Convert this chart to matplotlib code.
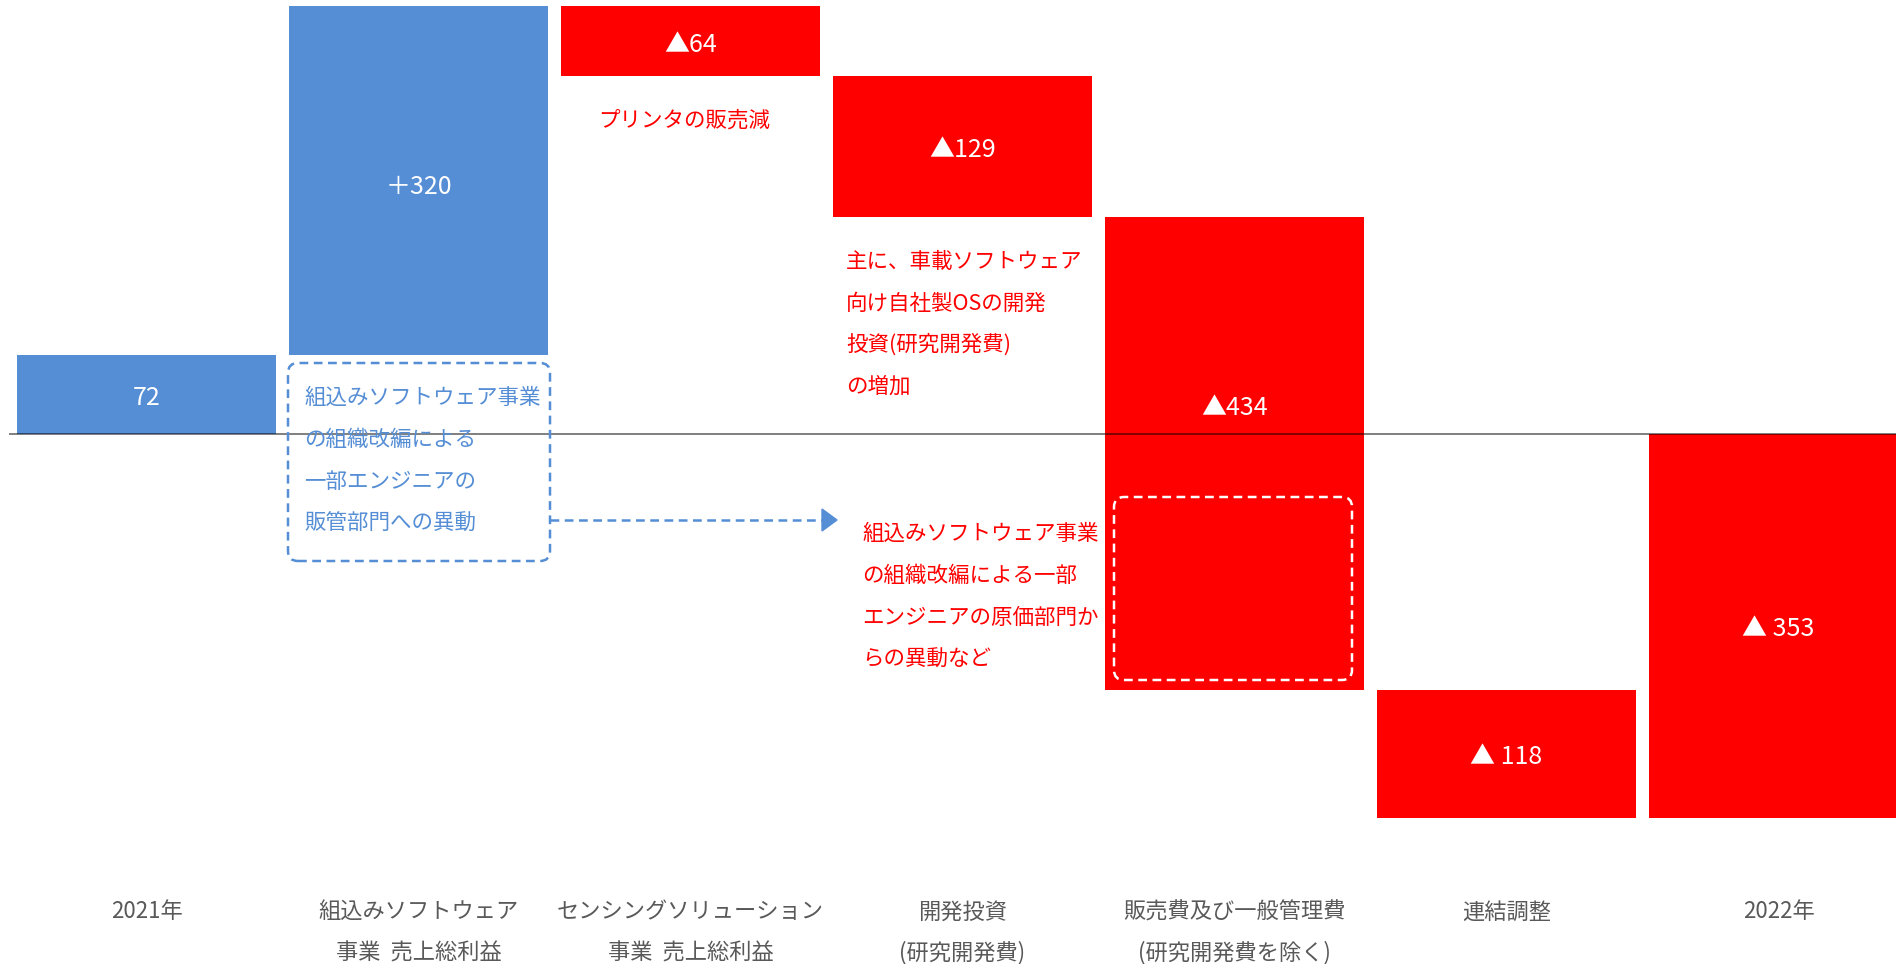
import numpy as np
import matplotlib
matplotlib.use('Agg')
import matplotlib.pyplot as plt
from matplotlib.patches import FancyBboxPatch, Polygon
from matplotlib.lines import Line2D
from matplotlib.transforms import blended_transform_factory

plt.rcParams['font.family'] = ['Noto Sans CJK JP', 'DejaVu Sans']

# data
categories = [
    '2021年',
    '組込みソフトウェア\n事業  売上総利益',
    'センシングソリューション\n事業  売上総利益',
    '開発投資\n(研究開発費)',
    '販売費及び一般管理費\n(研究開発費を除く)',
    '連結調整',
    '2022年',
]
start_value = 72
changes = [320, -64, -129, -434, -118]
value_labels = ['72', '＋320', '▲64', '▲129', '▲434', '▲ 118', '▲ 353']

BLUE = '#558ed5'
RED = '#ff0000'
GREY = '#595959'

end_value = start_value + sum(changes)
heights = [start_value] + changes + [end_value]
running = start_value + np.concatenate([[0], np.cumsum(changes)[:-1]])
bottoms = [0] + list(running) + [0]
colors = [BLUE if h > 0 else RED for h in heights]
x = np.arange(len(heights))

W, H = 1896, 964
fig = plt.figure(figsize=(W / 100, H / 100), dpi=100)
ax = fig.add_axes([0, 0, 1, 1])
ax.axis('off')
# zero at 433.5 px from top, 1.09 px per unit; first bar centre at 146.5 px, step 272 px
ax.set_xlim(-146.5 / 272, (W - 146.5) / 272)
ax.set_ylim(-(H - 433.5) / 1.09, 433.5 / 1.09)

ax.bar(x, heights, bottom=bottoms, width=0.952, color=colors, zorder=2)
ax.axhline(0, xmin=10 / W, xmax=1, color='black', alpha=0.5, lw=1.4, zorder=3)

# value labels
label_y = {1: 229, 4: 27}
for i in x:
    y = label_y.get(i, bottoms[i] + heights[i] / 2)
    ax.annotate(value_labels[i], (i, y), xytext=(0, -2.5), textcoords='offset points',
                color='white', fontsize=18, ha='center', va='center', zorder=4)

# category labels
tr = blended_transform_factory(ax.transData, ax.transAxes)
for i, cat in enumerate(categories):
    for j, line in enumerate(cat.split('\n')):
        ax.text(i, 1 - (912 + 41 * j) / H, line, transform=tr, color=GREY,
                fontsize=16, ha='center', va='center')

# annotations in pixel space
P = fig.dpi_scale_trans


def px(xp, yp):
    return xp / 100, (H - yp) / 100


def note(lines, x0, y0, color, step=42, ha='left'):
    for k, s in enumerate(lines):
        fig.text(*px(x0, y0 + 3 + step * k), s, transform=P, color=color,
                 fontsize=15.5, ha=ha, va='center')


def dashed_box(x0, y0, x1, y1, color):
    bx, by = px(x0, y1)
    box = FancyBboxPatch((bx, by), (x1 - x0) / 100, (y1 - y0) / 100,
                         boxstyle='round,pad=0,rounding_size=0.1',
                         transform=P, fill=False, edgecolor=color, lw=1.8,
                         linestyle=(0, (3.5, 2.2)), zorder=5)
    fig.add_artist(box)


dashed_box(288, 363, 550, 561, BLUE)
note(['組込みソフトウェア事業', 'の組織改編による', '一部エンジニアの', '販管部門への異動'],
     304, 395, BLUE)

# arrow
fig.add_artist(Line2D([550 / 100, 824 / 100], [(H - 520) / 100] * 2, transform=P,
                      color=BLUE, lw=1.8, linestyle=(0, (3.5, 2.2))))
fig.add_artist(Polygon([px(822, 509), px(837, 520), px(822, 531)], closed=True,
                       transform=P, color=BLUE))

note(['プリンタの販売減'], 684, 118, RED, ha='center')
note(['主に、車載ソフトウェア', '向け自社製OSの開発', '投資(研究開発費)', 'の増加'],
     846, 259, RED, step=41.5)
note(['組込みソフトウェア事業', 'の組織改編による一部', 'エンジニアの原価部門か', 'らの異動など'],
     862, 531, RED, step=42)

dashed_box(1114, 497, 1352, 680, 'white')

fig.savefig('out.png', dpi=100, facecolor='white')
